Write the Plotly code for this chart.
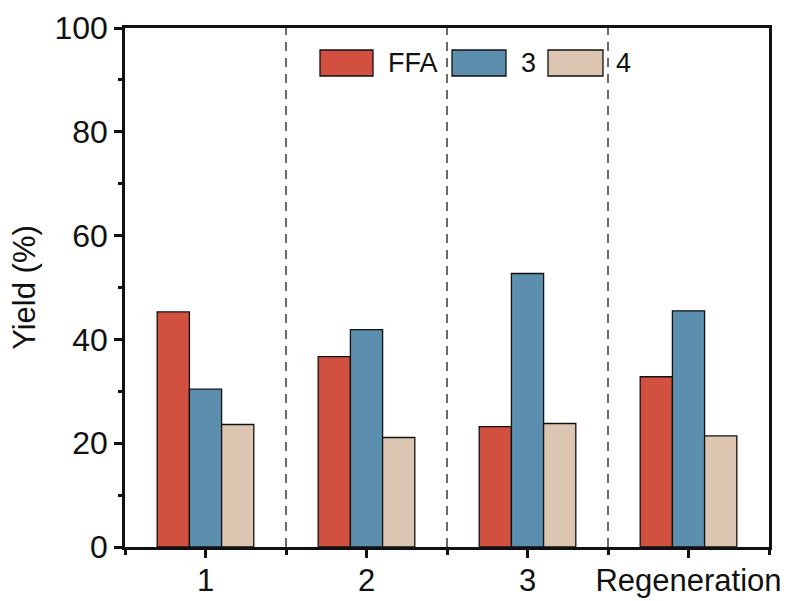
import plotly.graph_objects as go

# Yield data per run
categories = ["1", "2", "3", "Regeneration"]
series_names = ["FFA", "3", "4"]
ffa_yield = [45.3, 36.7, 23.2, 32.8]
c3_yield = [30.4, 41.9, 52.7, 45.5]
c4_yield = [23.6, 21.1, 23.8, 21.4]
y_ticks = [0, 20, 40, 60, 80, 100]

colors = ["#d2503f", "#5b8fad", "#dcc6b1"]
values = [ffa_yield, c3_yield, c4_yield]
xpos = list(range(len(categories)))

FONT = "Liberation Sans, Arial, sans-serif"

fig = go.Figure()
for name, vals, col in zip(series_names, values, colors):
    fig.add_trace(go.Bar(
        x=xpos, y=vals, name=name,
        marker=dict(color=col, line=dict(color="#111111", width=1.3)),
        showlegend=False,
    ))

# dashed separators between runs
for b in [i + 0.5 for i in xpos[:-1]]:
    fig.add_shape(type="line", x0=b, x1=b, y0=0, y1=1, xref="x", yref="paper",
                  line=dict(color="#6a6a6a", width=2, dash="9px,7px"), layer="below")

# legend: wide swatches with labels, laid out in a row
swatches = [
    (0.3028, 0.3851, 0.4060),
    (0.5078, 0.5916, 0.6120),
    (0.6568, 0.7422, 0.7595),
]
for (x0, x1, xt), name, col in zip(swatches, series_names, colors):
    fig.add_shape(type="rect", xref="paper", yref="paper", x0=x0, x1=x1,
                  y0=0.9075, y1=0.9576, fillcolor=col,
                  line=dict(color="#111111", width=1.3), layer="above")
    fig.add_annotation(xref="paper", yref="paper", x=xt, y=0.9326, text=name,
                       showarrow=False, xanchor="left", yanchor="middle",
                       font=dict(family=FONT, size=27, color="#111111"))

fig.update_layout(
    width=797, height=601,
    margin=dict(l=125, r=28, t=28, b=54),
    plot_bgcolor="white", paper_bgcolor="white",
    barmode="group", bargap=0.4, bargroupgap=0,
    font=dict(family=FONT, size=32, color="#111111"),
)
fig.update_xaxes(
    range=[-0.5, len(categories) - 0.5], automargin=False,
    tickmode="array", tickvals=xpos, ticktext=categories,
    showline=True, linecolor="#111111", linewidth=2.5, mirror=True,
    ticks="outside", ticklen=8, tickwidth=2.5, tickcolor="#111111",
    minor=dict(tickvals=[i - 0.5 for i in range(len(categories) + 1)],
               ticks="outside", ticklen=5, tickwidth=2.5, tickcolor="#111111"),
    showgrid=False, zeroline=False, ticklabelstandoff=-4,
    tickfont=dict(family=FONT, size=31, color="#111111"),
)
fig.update_yaxes(
    range=[0, 100], automargin=False,
    tickmode="array", tickvals=y_ticks,
    showline=True, linecolor="#111111", linewidth=2.5, mirror=True,
    ticks="outside", ticklen=8, tickwidth=2.5, tickcolor="#111111",
    minor=dict(dtick=10, ticks="outside", ticklen=4, tickwidth=2.5, tickcolor="#111111"),
    showgrid=False, zeroline=False,
    title=dict(text="Yield (%)", font=dict(family=FONT, size=31, color="#111111"), standoff=10),
    tickfont=dict(family=FONT, size=32, color="#111111"),
)

fig.write_html("out.html")
